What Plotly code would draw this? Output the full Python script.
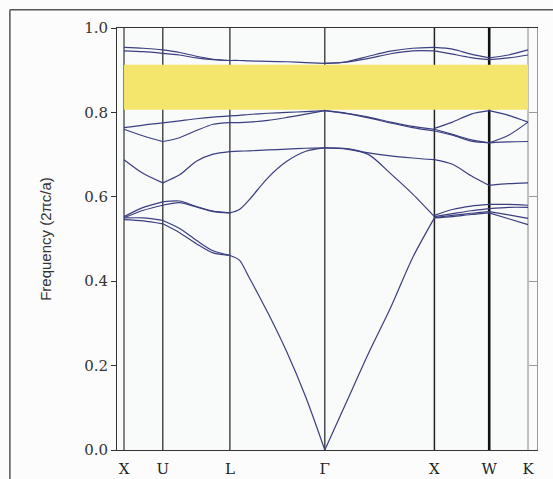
import plotly.graph_objects as go

# High-symmetry points of the FCC Brillouin zone path
POINT_LABELS = ["X", "U", "L", "Γ", "X", "W", "K"]
POINT_K = [0.0, 0.354, 0.966, 1.832, 2.832, 3.332, 3.686]

# fractional sample positions inside each segment X-U, U-L, L-Γ, Γ-X, X-W, W-K
SEG_FRACS = [
    [0, 0.5, 1],
    [0, 0.25, 0.5, 0.75, 1],
    [0, 0.1, 0.2, 0.4, 0.6, 0.8, 1],
    [0, 0.2, 0.4, 0.6, 0.8, 1],
    [0, 0.33, 0.67, 1],
    [0, 0.5, 1],
]

# band frequencies (2πc/a), one list per segment (None = not drawn)
band_1 = [[0.546, 0.543, 0.536], [0.536, 0.515, 0.489, 0.467, 0.461],
          [0.461, 0.450, 0.410, 0.325, 0.232, 0.125, 0.0],
          [0.0, 0.115, 0.230, 0.337, 0.455, 0.550],
          [0.550, 0.553, 0.558, 0.562], [0.562, 0.548, 0.534]]
band_2 = [[0.550, 0.550, 0.544], [0.544, 0.525, 0.497, 0.472, 0.461],
          None, None,
          [0.551, 0.556, 0.561, 0.565], [0.565, 0.557, 0.549]]
band_3 = [[0.550, 0.568, 0.580], [0.580, 0.586, 0.576, 0.565, 0.562],
          [0.562, 0.570, 0.592, 0.645, 0.684, 0.708, 0.716],
          [0.716, 0.713, 0.700, 0.655, 0.607, 0.553],
          [0.553, 0.560, 0.567, 0.572], [0.572, 0.575, 0.575]]
band_4 = [[0.553, 0.575, 0.588], [0.588, 0.590, 0.577, 0.566, 0.562],
          None, None,
          [0.556, 0.570, 0.578, 0.582], [0.582, 0.582, 0.580]]
band_5 = [[0.688, 0.655, 0.633], [0.633, 0.652, 0.684, 0.701, 0.707],
          [0.707, 0.708, 0.709, 0.711, 0.713, 0.715, 0.716],
          [0.716, 0.714, 0.704, 0.697, 0.692, 0.688],
          [0.688, 0.677, 0.650, 0.627], [0.627, 0.631, 0.633]]
band_6 = [[0.760, 0.744, 0.731], [0.731, 0.740, 0.757, 0.772, 0.776],
          [0.776, 0.776, 0.777, 0.781, 0.788, 0.796, 0.804],
          [0.804, 0.797, 0.787, 0.775, 0.764, 0.756],
          [0.756, 0.746, 0.732, 0.728], [0.728, 0.730, 0.731]]
band_7 = [[0.764, 0.770, 0.775], [0.775, 0.780, 0.785, 0.789, 0.792],
          [0.792, 0.793, 0.795, 0.798, 0.800, 0.802, 0.804],
          [0.804, 0.798, 0.789, 0.777, 0.767, 0.760],
          [0.760, 0.748, 0.735, 0.728], [0.728, 0.746, 0.777]]
band_8 = [None, None, None, None,
          [0.762, 0.777, 0.796, 0.804], [0.804, 0.793, 0.777]]
band_9 = [[0.946, 0.944, 0.940], [0.940, 0.936, 0.929, 0.925, 0.923],
          [0.923, 0.923, 0.922, 0.921, 0.920, 0.918, 0.916],
          [0.916, 0.919, 0.928, 0.939, 0.946, 0.946],
          [0.946, 0.938, 0.930, 0.925], [0.925, 0.929, 0.936]]
band_10 = [[0.954, 0.952, 0.948], [0.948, 0.942, 0.933, 0.926, 0.923],
           None,
           [0.916, 0.920, 0.933, 0.945, 0.952, 0.954],
           [0.954, 0.950, 0.938, 0.929], [0.929, 0.936, 0.948]]

BANDS = [band_1, band_2, band_3, band_4, band_5, band_6, band_7, band_8, band_9, band_10]

# complete photonic band gap
GAP_BOTTOM = 0.806
GAP_TOP = 0.913

Y_TICKS = [0.0, 0.2, 0.4, 0.6, 0.8, 1.0]

BAND_COLOR = "#3b3f80"

fig = go.Figure()

for band in BANDS:
    xs, ys = [], []
    for i, vals in enumerate(band):
        if vals is None:
            continue
        k0, k1 = POINT_K[i], POINT_K[i + 1]
        for f, v in zip(SEG_FRACS[i], vals):
            xs.append(k0 + f * (k1 - k0))
            ys.append(v)
        xs.append(None)
        ys.append(None)
    fig.add_trace(go.Scatter(x=xs, y=ys, mode="lines",
                             line=dict(color=BAND_COLOR, width=1.2, shape="spline", smoothing=0.8),
                             connectgaps=False, showlegend=False, hoverinfo="skip"))

# invisible trace to activate right-hand mirror axis
fig.add_trace(go.Scatter(x=[POINT_K[0]], y=[0], yaxis="y2", mode="markers",
                         marker=dict(opacity=0), showlegend=False, hoverinfo="skip"))

shapes = []
# band gap
shapes.append(dict(type="rect", xref="x", yref="y", x0=POINT_K[0], x1=POINT_K[-1],
                   y0=GAP_BOTTOM, y1=GAP_TOP, fillcolor="#f4e66c", line=dict(width=0),
                   layer="below"))
# vertical lines at high-symmetry points
line_styles = [("#333333", 1.2), ("#222222", 1.2), ("#222222", 1.2), ("#222222", 1.2),
               ("#222222", 1.5), ("#111111", 2.6), ("#9a9a9a", 1.2)]
for kx, (col, w) in zip(POINT_K, line_styles):
    shapes.append(dict(type="line", xref="x", yref="paper", x0=kx, x1=kx, y0=0, y1=1,
                       line=dict(color=col, width=w), layer="below"))
# outer frame of the figure: only top and left edges are inside the view
frame = dict(color="#555555", width=1.5)
shapes.append(dict(type="line", xref="paper", yref="paper", x0=-0.255, x1=1.1,
                   y0=1.043, y1=1.043, line=frame, layer="above"))
shapes.append(dict(type="line", xref="paper", yref="paper", x0=-0.255, x1=-0.255,
                   y0=-0.2, y1=1.043, line=frame, layer="above"))

serif = "DejaVu Serif, serif"

fig.update_layout(
    width=553, height=479,
    margin=dict(l=117, r=16, t=28, b=29, autoexpand=False),
    paper_bgcolor="#fbfcfb",
    plot_bgcolor="#f9fafa",
    shapes=shapes,
    xaxis=dict(range=[-0.064, 3.768], tickvals=POINT_K, ticktext=POINT_LABELS,
               ticks="", showline=True, linecolor="#333333", linewidth=1, mirror=True,
               showgrid=False, zeroline=False, automargin=False, ticklabelstandoff=5,
               tickfont=dict(family=serif, size=15, color="#222222")),
    yaxis=dict(range=[0, 1], tickvals=Y_TICKS, tickformat=".1f", ticks="outside",
               ticklen=5, tickcolor="#333333", showline=True, linecolor="#333333",
               linewidth=1, showgrid=False, zeroline=False, automargin=False,
               tickfont=dict(family=serif, size=15, color="#333333"),
               title=dict(text="Frequency (2πc/a)", standoff=28,
                          font=dict(family="Liberation Sans, Arial, sans-serif", size=15,
                                    color="#333333"))),
    yaxis2=dict(range=[0, 1], overlaying="y", side="right", tickvals=Y_TICKS,
                ticks="inside", ticklen=8, tickcolor="#9a9a9a", showline=True,
                linecolor="#9a9a9a", linewidth=1, showticklabels=False,
                showgrid=False, zeroline=False),
)

# remove the default page margin and scrollbars so the figure sits at the window origin
fig.write_html(
    "out.html",
    config={"displayModeBar": False},
    post_script=("document.documentElement.style.overflow='hidden';"
                 "document.body.style.margin='0';document.body.style.overflow='hidden';"),
)
